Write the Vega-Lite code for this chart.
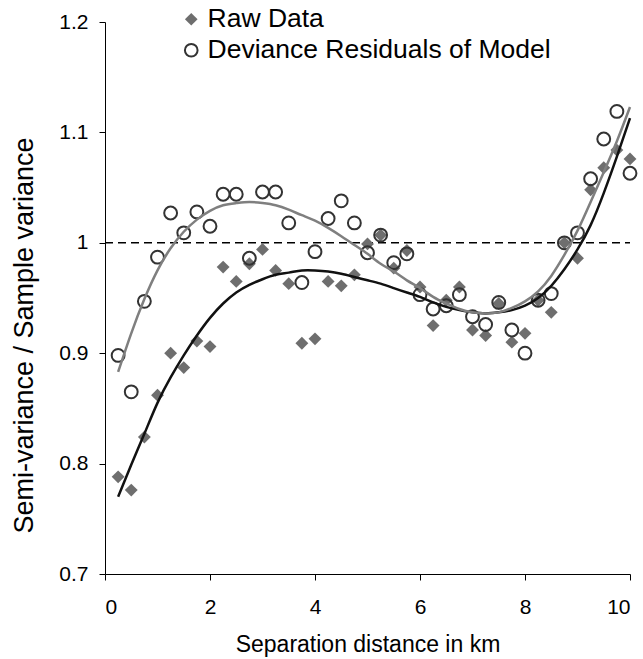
{
  "$schema": "https://vega.github.io/schema/vega-lite/v6.json",
  "width": 525,
  "height": 552,
  "autosize": "none",
  "padding": {"left": 105, "top": 22, "right": 13, "bottom": 85},
  "background": "white",
  "config": {
    "view": {"stroke": null},
    "font": "Liberation Sans",
    "axis": {
      "grid": false,
      "domainColor": "#000000",
      "domainWidth": 1,
      "tickColor": "#000000",
      "tickWidth": 1,
      "tickSize": 6,
      "labelColor": "#000000",
      "titleColor": "#000000",
      "labelFont": "Liberation Sans",
      "titleFont": "Liberation Sans",
      "titleFontWeight": "normal"
    }
  },
  "datasets": {
    "points": [
      {"x": 0.25, "v": 0.788, "series": "Raw Data"},
      {"x": 0.5, "v": 0.776, "series": "Raw Data"},
      {"x": 0.75, "v": 0.824, "series": "Raw Data"},
      {"x": 1.0, "v": 0.862, "series": "Raw Data"},
      {"x": 1.25, "v": 0.9, "series": "Raw Data"},
      {"x": 1.5, "v": 0.887, "series": "Raw Data"},
      {"x": 1.75, "v": 0.911, "series": "Raw Data"},
      {"x": 2.0, "v": 0.906, "series": "Raw Data"},
      {"x": 2.25, "v": 0.978, "series": "Raw Data"},
      {"x": 2.5, "v": 0.965, "series": "Raw Data"},
      {"x": 2.75, "v": 0.981, "series": "Raw Data"},
      {"x": 3.0, "v": 0.994, "series": "Raw Data"},
      {"x": 3.25, "v": 0.975, "series": "Raw Data"},
      {"x": 3.5, "v": 0.963, "series": "Raw Data"},
      {"x": 3.75, "v": 0.909, "series": "Raw Data"},
      {"x": 4.0, "v": 0.913, "series": "Raw Data"},
      {"x": 4.25, "v": 0.965, "series": "Raw Data"},
      {"x": 4.5, "v": 0.961, "series": "Raw Data"},
      {"x": 4.75, "v": 0.971, "series": "Raw Data"},
      {"x": 5.0, "v": 0.999, "series": "Raw Data"},
      {"x": 5.25, "v": 1.007, "series": "Raw Data"},
      {"x": 5.5, "v": 0.977, "series": "Raw Data"},
      {"x": 5.75, "v": 0.993, "series": "Raw Data"},
      {"x": 6.0, "v": 0.96, "series": "Raw Data"},
      {"x": 6.25, "v": 0.925, "series": "Raw Data"},
      {"x": 6.5, "v": 0.948, "series": "Raw Data"},
      {"x": 6.75, "v": 0.96, "series": "Raw Data"},
      {"x": 7.0, "v": 0.921, "series": "Raw Data"},
      {"x": 7.25, "v": 0.916, "series": "Raw Data"},
      {"x": 7.5, "v": 0.945, "series": "Raw Data"},
      {"x": 7.75, "v": 0.91, "series": "Raw Data"},
      {"x": 8.0, "v": 0.918, "series": "Raw Data"},
      {"x": 8.25, "v": 0.948, "series": "Raw Data"},
      {"x": 8.5, "v": 0.937, "series": "Raw Data"},
      {"x": 8.75, "v": 1.0, "series": "Raw Data"},
      {"x": 9.0, "v": 0.986, "series": "Raw Data"},
      {"x": 9.25, "v": 1.048, "series": "Raw Data"},
      {"x": 9.5, "v": 1.068, "series": "Raw Data"},
      {"x": 9.75, "v": 1.084, "series": "Raw Data"},
      {"x": 10.0, "v": 1.076, "series": "Raw Data"},
      {"x": 0.25, "v": 0.898, "series": "Deviance Residuals of Model"},
      {"x": 0.5, "v": 0.865, "series": "Deviance Residuals of Model"},
      {"x": 0.75, "v": 0.947, "series": "Deviance Residuals of Model"},
      {"x": 1.0, "v": 0.987, "series": "Deviance Residuals of Model"},
      {"x": 1.25, "v": 1.027, "series": "Deviance Residuals of Model"},
      {"x": 1.5, "v": 1.009, "series": "Deviance Residuals of Model"},
      {"x": 1.75, "v": 1.028, "series": "Deviance Residuals of Model"},
      {"x": 2.0, "v": 1.015, "series": "Deviance Residuals of Model"},
      {"x": 2.25, "v": 1.044, "series": "Deviance Residuals of Model"},
      {"x": 2.5, "v": 1.044, "series": "Deviance Residuals of Model"},
      {"x": 2.75, "v": 0.986, "series": "Deviance Residuals of Model"},
      {"x": 3.0, "v": 1.046, "series": "Deviance Residuals of Model"},
      {"x": 3.25, "v": 1.046, "series": "Deviance Residuals of Model"},
      {"x": 3.5, "v": 1.018, "series": "Deviance Residuals of Model"},
      {"x": 3.75, "v": 0.964, "series": "Deviance Residuals of Model"},
      {"x": 4.0, "v": 0.992, "series": "Deviance Residuals of Model"},
      {"x": 4.25, "v": 1.022, "series": "Deviance Residuals of Model"},
      {"x": 4.5, "v": 1.038, "series": "Deviance Residuals of Model"},
      {"x": 4.75, "v": 1.018, "series": "Deviance Residuals of Model"},
      {"x": 5.0, "v": 0.991, "series": "Deviance Residuals of Model"},
      {"x": 5.25, "v": 1.007, "series": "Deviance Residuals of Model"},
      {"x": 5.5, "v": 0.982, "series": "Deviance Residuals of Model"},
      {"x": 5.75, "v": 0.99, "series": "Deviance Residuals of Model"},
      {"x": 6.0, "v": 0.953, "series": "Deviance Residuals of Model"},
      {"x": 6.25, "v": 0.94, "series": "Deviance Residuals of Model"},
      {"x": 6.5, "v": 0.943, "series": "Deviance Residuals of Model"},
      {"x": 6.75, "v": 0.953, "series": "Deviance Residuals of Model"},
      {"x": 7.0, "v": 0.933, "series": "Deviance Residuals of Model"},
      {"x": 7.25, "v": 0.926, "series": "Deviance Residuals of Model"},
      {"x": 7.5, "v": 0.946, "series": "Deviance Residuals of Model"},
      {"x": 7.75, "v": 0.921, "series": "Deviance Residuals of Model"},
      {"x": 8.0, "v": 0.9, "series": "Deviance Residuals of Model"},
      {"x": 8.25, "v": 0.948, "series": "Deviance Residuals of Model"},
      {"x": 8.5, "v": 0.954, "series": "Deviance Residuals of Model"},
      {"x": 8.75, "v": 1.0, "series": "Deviance Residuals of Model"},
      {"x": 9.0, "v": 1.009, "series": "Deviance Residuals of Model"},
      {"x": 9.25, "v": 1.058, "series": "Deviance Residuals of Model"},
      {"x": 9.5, "v": 1.094, "series": "Deviance Residuals of Model"},
      {"x": 9.75, "v": 1.119, "series": "Deviance Residuals of Model"},
      {"x": 10.0, "v": 1.063, "series": "Deviance Residuals of Model"}
    ],
    "rawfit": [
      {"x": 0.25, "v": 0.77}, {"x": 0.5, "v": 0.799}, {"x": 0.75, "v": 0.827},
      {"x": 1.0, "v": 0.855}, {"x": 1.25, "v": 0.878}, {"x": 1.5, "v": 0.898},
      {"x": 1.75, "v": 0.916}, {"x": 2.0, "v": 0.932}, {"x": 2.25, "v": 0.945},
      {"x": 2.5, "v": 0.955}, {"x": 2.75, "v": 0.962}, {"x": 3.0, "v": 0.967},
      {"x": 3.25, "v": 0.971}, {"x": 3.5, "v": 0.973}, {"x": 3.75, "v": 0.975},
      {"x": 4.0, "v": 0.975}, {"x": 4.25, "v": 0.974}, {"x": 4.5, "v": 0.972},
      {"x": 4.75, "v": 0.969}, {"x": 5.0, "v": 0.966}, {"x": 5.25, "v": 0.963},
      {"x": 5.5, "v": 0.959}, {"x": 5.75, "v": 0.955}, {"x": 6.0, "v": 0.951},
      {"x": 6.25, "v": 0.946}, {"x": 6.5, "v": 0.942}, {"x": 6.75, "v": 0.939},
      {"x": 7.0, "v": 0.937}, {"x": 7.25, "v": 0.936}, {"x": 7.5, "v": 0.937},
      {"x": 7.75, "v": 0.939}, {"x": 8.0, "v": 0.943}, {"x": 8.25, "v": 0.95},
      {"x": 8.5, "v": 0.961}, {"x": 8.75, "v": 0.976}, {"x": 9.0, "v": 0.994},
      {"x": 9.25, "v": 1.016}, {"x": 9.5, "v": 1.045}, {"x": 9.75, "v": 1.078},
      {"x": 10.0, "v": 1.113}
    ],
    "resfit": [
      {"x": 0.25, "v": 0.883}, {"x": 0.5, "v": 0.918}, {"x": 0.75, "v": 0.949},
      {"x": 1.0, "v": 0.975}, {"x": 1.25, "v": 0.995}, {"x": 1.5, "v": 1.01},
      {"x": 1.75, "v": 1.021}, {"x": 2.0, "v": 1.029}, {"x": 2.25, "v": 1.034},
      {"x": 2.5, "v": 1.036}, {"x": 2.75, "v": 1.037}, {"x": 3.0, "v": 1.036},
      {"x": 3.25, "v": 1.034}, {"x": 3.5, "v": 1.03}, {"x": 3.75, "v": 1.025},
      {"x": 4.0, "v": 1.02}, {"x": 4.25, "v": 1.0135}, {"x": 4.5, "v": 1.006},
      {"x": 4.75, "v": 0.998}, {"x": 5.0, "v": 0.99}, {"x": 5.25, "v": 0.981},
      {"x": 5.5, "v": 0.974}, {"x": 5.75, "v": 0.966}, {"x": 6.0, "v": 0.959},
      {"x": 6.25, "v": 0.951}, {"x": 6.5, "v": 0.945}, {"x": 6.75, "v": 0.94},
      {"x": 7.0, "v": 0.937}, {"x": 7.25, "v": 0.936}, {"x": 7.5, "v": 0.937},
      {"x": 7.75, "v": 0.941}, {"x": 8.0, "v": 0.947}, {"x": 8.25, "v": 0.956},
      {"x": 8.5, "v": 0.97}, {"x": 8.75, "v": 0.989}, {"x": 9.0, "v": 1.011},
      {"x": 9.25, "v": 1.037}, {"x": 9.5, "v": 1.064}, {"x": 9.75, "v": 1.092},
      {"x": 10.0, "v": 1.123}
    ],
    "ref": [{"x": 0, "x2": 10, "v": 1.0}]
  },
  "layer": [
    {
      "data": {"name": "ref"},
      "mark": {"type": "rule", "color": "#000000", "strokeWidth": 1.5, "strokeDash": [8, 5]},
      "encoding": {
        "x": {"field": "x", "type": "quantitative", "scale": {"domain": [0, 10], "nice": false}},
        "x2": {"field": "x2"},
        "y": {"field": "v", "type": "quantitative", "scale": {"domain": [0.7, 1.2], "nice": false}}
      }
    },
    {
      "data": {"name": "points"},
      "mark": {"type": "point", "filled": false, "strokeWidth": 2, "size": 165, "opacity": 1},
      "encoding": {
        "x": {
          "field": "x", "type": "quantitative",
          "scale": {"domain": [0, 10], "nice": false},
          "axis": {
            "values": [0, 2, 4, 6, 8, 10],
            "title": "Separation distance in km",
            "labelFontSize": 21,
            "labelPadding": 16,
            "titleFontSize": 23,
            "titleBaseline": "top",
            "titleY": 59
          }
        },
        "y": {
          "field": "v", "type": "quantitative",
          "scale": {"domain": [0.7, 1.2], "nice": false},
          "axis": {
            "values": [0.7, 0.8, 0.9, 1.0, 1.1, 1.2],
            "format": "~g",
            "title": "Semi-variance / Sample variance",
            "labelFontSize": 21,
            "labelPadding": 11,
            "titleFontSize": 27,
            "titleAngle": 270,
            "titleAlign": "center",
            "titleBaseline": "middle",
            "titleX": -81,
            "titleY": 313
          }
        },
        "shape": {
          "field": "series", "type": "nominal",
          "scale": {"domain": ["Raw Data", "Deviance Residuals of Model"], "range": ["diamond", "circle"]},
          "legend": {
            "title": null,
            "orient": "none",
            "legendX": 73,
            "legendY": -16,
            "padding": 0,
            "labelFontSize": 26.5,
            "labelColor": "#000000",
            "labelFont": "Liberation Sans",
            "labelLimit": 600,
            "labelOffset": 3,
            "symbolSize": 160,
            "symbolStrokeWidth": 2,
            "rowPadding": 4
          }
        },
        "fill": {
          "field": "series", "type": "nominal",
          "scale": {"domain": ["Raw Data", "Deviance Residuals of Model"], "range": ["#6e6e6e", "rgba(0,0,0,0)"]}
        },
        "stroke": {
          "field": "series", "type": "nominal",
          "scale": {"domain": ["Raw Data", "Deviance Residuals of Model"], "range": ["rgba(0,0,0,0)", "#333333"]}
        }
      }
    },
    {
      "data": {"name": "rawfit"},
      "mark": {"type": "line", "color": "#111111", "strokeWidth": 2.5, "interpolate": "natural"},
      "encoding": {
        "x": {"field": "x", "type": "quantitative"},
        "y": {"field": "v", "type": "quantitative"}
      }
    },
    {
      "data": {"name": "resfit"},
      "mark": {"type": "line", "color": "#7f7f7f", "strokeWidth": 2.5, "interpolate": "natural"},
      "encoding": {
        "x": {"field": "x", "type": "quantitative"},
        "y": {"field": "v", "type": "quantitative"}
      }
    }
  ]
}
